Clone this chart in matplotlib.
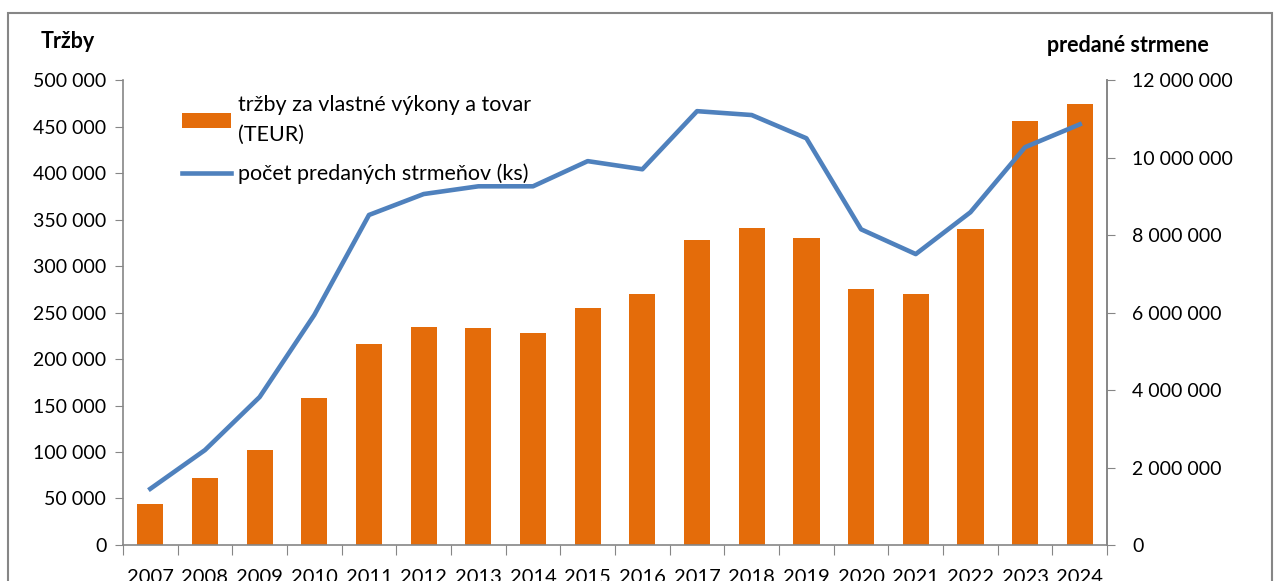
import matplotlib.pyplot as plt
from matplotlib.patches import Rectangle
from matplotlib.ticker import FuncFormatter, MultipleLocator

plt.rcParams['font.family'] = ['Lato', 'DejaVu Sans']

years = ["2007", "2008", "2009", "2010", "2011", "2012", "2013", "2014", "2015",
         "2016", "2017", "2018", "2019", "2020", "2021", "2022", "2023", "2024"]
trzby = [44000, 72000, 102000, 158000, 216000, 234000, 233000, 228000, 255000,
         270000, 328000, 341000, 330000, 275000, 270000, 340000, 456000, 474000]
strmene = [1450000, 2450000, 3820000, 5940000, 8520000, 9060000, 9260000, 9260000, 9910000,
           9700000, 11200000, 11100000, 10500000, 8150000, 7510000, 8590000, 10270000, 10860000]

bar_color = "#E46C0A"
line_color = "#4F81BD"
axis_color = "#868686"


def space_fmt(v, pos):
    return f"{int(v):,}".replace(",", " ")


fig = plt.figure(figsize=(12.74, 5.81), dpi=100)
ax = fig.add_axes([0.0965, 0.062, 0.7725, 0.80])
ax2 = ax.twinx()

x = list(range(len(years)))
bars = ax.bar(x, trzby, width=0.48, color=bar_color, zorder=2,
              label="tržby za vlastné výkony a tovar\n(TEUR)")
line, = ax2.plot(x, strmene, color=line_color, linewidth=3.3, zorder=3,
                 label="počet predaných strmeňov (ks)")

ax.set_xlim(-0.5, len(years) - 0.5)
ax.set_ylim(0, 500000)
ax2.set_ylim(0, 12000000)
ax.yaxis.set_major_locator(MultipleLocator(50000))
ax2.yaxis.set_major_locator(MultipleLocator(2000000))
ax.yaxis.set_major_formatter(FuncFormatter(space_fmt))
ax2.yaxis.set_major_formatter(FuncFormatter(space_fmt))

# x ticks between categories, labels centred under bars (cut off at the bottom like the original)
ax.set_xticks([i - 0.5 for i in range(len(years) + 1)])
ax.set_xticklabels([])
ax.set_xticks(x, minor=True)
ax.set_xticklabels(years, minor=True, fontsize=14.5)
ax.tick_params(axis="x", which="minor", length=0, pad=17)
ax.tick_params(axis="x", which="major", length=7, color=axis_color, direction="out")

ax.tick_params(axis="y", labelsize=14, length=6, color=axis_color, pad=6)
ax2.tick_params(axis="y", labelsize=14, length=6, color=axis_color, pad=12)

for a in (ax, ax2):
    a.spines["top"].set_visible(False)
    for s in ("left", "right", "bottom"):
        a.spines[s].set_color(axis_color)
        a.spines[s].set_linewidth(1.2)
ax2.spines["left"].set_visible(False)
ax2.spines["bottom"].set_visible(False)

fig.text(0.053, 0.928, "Tržby", fontsize=15.5, fontweight="bold", ha="center", va="center")
fig.text(0.885, 0.922, "predané strmene", fontsize=15.5, fontweight="bold", ha="center", va="center")

leg = ax.legend(handles=[bars, line], loc="upper left", bbox_to_anchor=(0.04, 1.01),
                frameon=False, fontsize=15.5, handlelength=2.3, handletextpad=0.3,
                labelspacing=0.85)
for t in leg.get_texts():
    t.set_linespacing(1.65)

# outer chart border
fig.patches.append(Rectangle((8 / 1274, -0.05), 1264 / 1274, 1 - 13 / 581 + 0.05,
                             transform=fig.transFigure, fill=False,
                             edgecolor=axis_color, linewidth=1.5, clip_on=False))

fig.savefig("out.png", dpi=100)
